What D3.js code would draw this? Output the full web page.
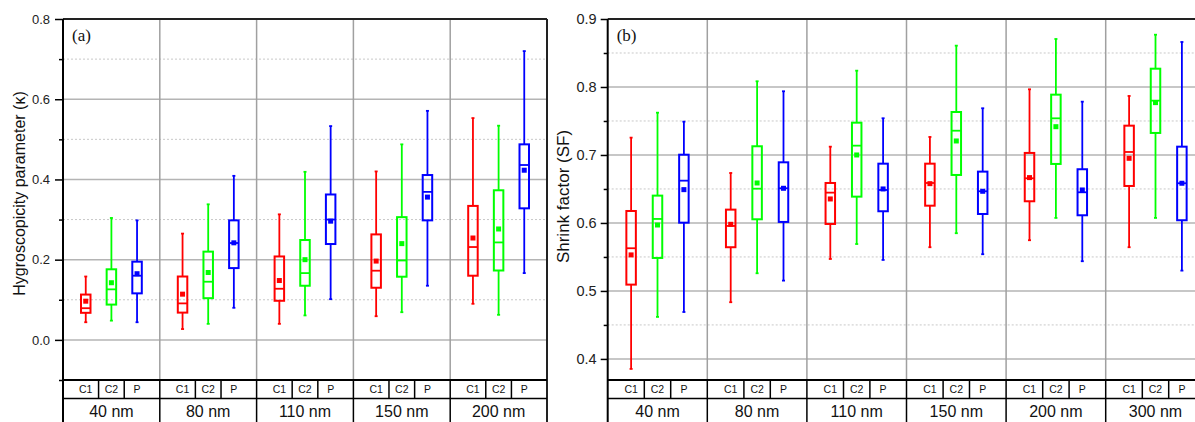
<!DOCTYPE html>
<html><head><meta charset="utf-8">
<script src="https://cdn.jsdelivr.net/npm/d3@7"></script>
<style>body{margin:0;background:#fff}svg{display:block}</style>
</head><body><svg id="chart" width="1195" height="422"></svg>
<script>
const seriesNames = ["C1", "C2", "P"];
const seriesColors = ["#ff0000", "#00ff00", "#0000ff"];

// (a) hygroscopicity parameter kappa
const kappaSizes = ["40 nm", "80 nm", "110 nm", "150 nm", "200 nm"];
// each row: [whiskerLow, q1, median, q3, whiskerHigh, mean]
const kappaC1 = [
  [0.044, 0.0675, 0.079, 0.113, 0.158, 0.0965],
  [0.027, 0.068, 0.091, 0.158, 0.265, 0.114],
  [0.040, 0.0975, 0.1275, 0.208, 0.313, 0.148],
  [0.059, 0.130, 0.1725, 0.263, 0.420, 0.1965],
  [0.090, 0.160, 0.2315, 0.334, 0.553, 0.254]
];
const kappaC2 = [
  [0.048, 0.088, 0.126, 0.176, 0.304, 0.1425],
  [0.040, 0.104, 0.145, 0.220, 0.338, 0.168],
  [0.061, 0.135, 0.1665, 0.249, 0.419, 0.200],
  [0.069, 0.1575, 0.198, 0.306, 0.4875, 0.240],
  [0.0625, 0.173, 0.243, 0.373, 0.534, 0.2765]
];
const kappaP = [
  [0.044, 0.116, 0.160, 0.195, 0.298, 0.165],
  [0.080, 0.179, 0.2415, 0.298, 0.409, 0.242],
  [0.1015, 0.239, 0.300, 0.3625, 0.533, 0.296],
  [0.135, 0.298, 0.369, 0.411, 0.571, 0.356],
  [0.1665, 0.328, 0.436, 0.4875, 0.720, 0.423]
];
const kappaTicks = [0.0, 0.2, 0.4, 0.6, 0.8];
const kappaMinor = [-0.1, 0.1, 0.3, 0.5, 0.7];

// (b) shrink factor
const sfSizes = ["40 nm", "80 nm", "110 nm", "150 nm", "200 nm", "300 nm"];
const sfC1 = [
  [0.3853, 0.5093, 0.5628, 0.6176, 0.7255, 0.553],
  [0.4834, 0.5643, 0.5956, 0.6196, 0.6735, 0.598],
  [0.547, 0.5985, 0.6446, 0.6588, 0.7122, 0.6353],
  [0.5643, 0.6254, 0.6588, 0.6872, 0.7265, 0.6578],
  [0.5746, 0.6319, 0.6657, 0.703, 0.7966, 0.6667],
  [0.5643, 0.6544, 0.7044, 0.7431, 0.7868, 0.6951]
];
const sfC2 = [
  [0.4618, 0.5485, 0.6059, 0.6402, 0.7622, 0.597],
  [0.526, 0.6054, 0.6504, 0.7128, 0.8084, 0.6588],
  [0.569, 0.6387, 0.7137, 0.7475, 0.824, 0.700],
  [0.5849, 0.6706, 0.7357, 0.7632, 0.8608, 0.7206],
  [0.6074, 0.6868, 0.7539, 0.7887, 0.8706, 0.7416],
  [0.6074, 0.7324, 0.7799, 0.8269, 0.8769, 0.777]
];
const sfP = [
  [0.469, 0.6004, 0.6622, 0.7004, 0.749, 0.649],
  [0.5152, 0.6015, 0.651, 0.6892, 0.7937, 0.651],
  [0.5456, 0.6172, 0.6485, 0.6872, 0.754, 0.650],
  [0.554, 0.6132, 0.6466, 0.6755, 0.7687, 0.6466],
  [0.5437, 0.6113, 0.6451, 0.679, 0.7784, 0.6485],
  [0.5299, 0.604, 0.6584, 0.7122, 0.8662, 0.6584]
];
const sfTicks = [0.4, 0.5, 0.6, 0.7, 0.8, 0.9];
const sfMinor = [0.45, 0.55, 0.65, 0.75, 0.85];

const svg = d3.select("#chart");

function panel(o) {
  const g = svg.append("g");
  const yTop = 19, yBottom = 380, row1 = 398.5, row2 = 423;
  const x = d3.scaleBand().domain(o.sizes).range([o.x0, o.x1]).padding(0);
  const bw = x.bandwidth();
  const xs = d3.scalePoint().domain(seriesNames).range([-0.265 * bw, 0.265 * bw]);
  const y = d3.scaleLinear().domain(o.domain).range([yBottom, yTop]);
  const inside = v => y(v) > yTop + 1 && y(v) < yBottom - 1;

  // grid
  g.selectAll(".minorgrid").data(o.minor.filter(inside)).join("line")
    .attr("x1", o.x0).attr("x2", o.x1).attr("y1", d => y(d)).attr("y2", d => y(d))
    .attr("stroke", "#c8c8c8").attr("stroke-width", 1).attr("stroke-dasharray", "2,2");
  g.selectAll(".majorgrid").data(o.major.filter(inside)).join("line")
    .attr("x1", o.x0).attr("x2", o.x1).attr("y1", d => y(d)).attr("y2", d => y(d))
    .attr("stroke", "#b4b4b4").attr("stroke-width", 1.5);
  g.selectAll(".vgrid").data(o.sizes.slice(1)).join("line")
    .attr("x1", d => x(d)).attr("x2", d => x(d)).attr("y1", yTop).attr("y2", yBottom)
    .attr("stroke", "#a0a0a0").attr("stroke-width", 1.5);

  // boxes
  const boxW = 9.5, capW = 3, mk = 5;
  o.series.forEach((arr, si) => {
    const col = seriesColors[si];
    const sg = g.append("g").attr("stroke", col).attr("fill", "none");
    arr.forEach((d, i) => {
      const cx = x(o.sizes[i]) + bw / 2 + xs(seriesNames[si]);
      sg.append("line").attr("x1", cx).attr("x2", cx).attr("y1", y(d[0])).attr("y2", y(d[1])).attr("stroke-width", 1.8);
      sg.append("line").attr("x1", cx).attr("x2", cx).attr("y1", y(d[3])).attr("y2", y(d[4])).attr("stroke-width", 1.8);
      sg.append("line").attr("x1", cx - capW / 2).attr("x2", cx + capW / 2).attr("y1", y(d[0])).attr("y2", y(d[0])).attr("stroke-width", 1.8);
      sg.append("line").attr("x1", cx - capW / 2).attr("x2", cx + capW / 2).attr("y1", y(d[4])).attr("y2", y(d[4])).attr("stroke-width", 1.8);
      sg.append("rect").attr("x", cx - boxW / 2).attr("width", boxW)
        .attr("y", y(d[3])).attr("height", y(d[1]) - y(d[3])).attr("stroke-width", 2);
      sg.append("line").attr("x1", cx - boxW / 2).attr("x2", cx + boxW / 2).attr("y1", y(d[2])).attr("y2", y(d[2])).attr("stroke-width", 1.8);
      sg.append("rect").attr("x", cx - mk / 2).attr("y", y(d[5]) - mk / 2).attr("width", mk).attr("height", mk)
        .attr("fill", col).attr("stroke", "none");
    });
  });

  // y axis
  const ax = g.append("g").attr("transform", `translate(${o.x0},0)`)
    .call(d3.axisLeft(y).tickValues(o.major).tickSize(o.tickLen).tickPadding(o.tickPad).tickFormat(d3.format(".1f")));
  ax.select(".domain").remove();
  ax.selectAll("line").attr("stroke", "#000").attr("stroke-width", 1.5);
  ax.selectAll("text").attr("font-family", "Arial, 'Liberation Sans', sans-serif")
    .attr("font-size", o.tickFont).attr("fill", "#222");
  const axm = g.append("g").attr("transform", `translate(${o.x0},0)`)
    .call(d3.axisLeft(y).tickValues(o.minor.filter(v => y(v) >= yTop && y(v) <= yBottom + 0.5)).tickSize(4).tickFormat(""));
  axm.select(".domain").remove();
  axm.selectAll("line").attr("stroke", "#000").attr("stroke-width", 1.5);

  // frame
  g.append("line").attr("x1", o.x0).attr("x2", o.x1).attr("y1", yTop).attr("y2", yTop).attr("stroke", "#222").attr("stroke-width", 2);
  g.append("line").attr("x1", o.x0).attr("x2", o.x0).attr("y1", yTop).attr("y2", row2).attr("stroke", "#000").attr("stroke-width", 2);
  g.append("line").attr("x1", o.x1).attr("x2", o.x1).attr("y1", yTop).attr("y2", row2).attr("stroke", "#222").attr("stroke-width", 2);
  g.append("line").attr("x1", o.x0).attr("x2", o.x1).attr("y1", yBottom).attr("y2", yBottom).attr("stroke", "#000").attr("stroke-width", 2);

  // category table
  g.append("line").attr("x1", o.x0).attr("x2", o.x1).attr("y1", row1).attr("y2", row1).attr("stroke", "#000").attr("stroke-width", 1.5);
  g.selectAll(".gsep").data(o.sizes.slice(1)).join("line")
    .attr("x1", d => x(d)).attr("x2", d => x(d)).attr("y1", yBottom).attr("y2", row2)
    .attr("stroke", "#000").attr("stroke-width", 1.5);
  const mids = [(xs("C1") + xs("C2")) / 2, (xs("C2") + xs("P")) / 2];
  o.sizes.forEach(s => {
    const c = x(s) + bw / 2;
    mids.forEach(m => {
      g.append("line").attr("x1", c + m).attr("x2", c + m).attr("y1", yBottom).attr("y2", row1)
        .attr("stroke", "#000").attr("stroke-width", 1.5);
    });
    seriesNames.forEach(n => {
      g.append("text").attr("x", c + xs(n)).attr("y", 393.3).attr("text-anchor", "middle")
        .attr("font-family", "Arial, 'Liberation Sans', sans-serif").attr("font-size", 10.5).attr("fill", "#111").text(n);
    });
    g.append("text").attr("x", c).attr("y", 416.5).attr("text-anchor", "middle")
      .attr("font-family", "Arial, 'Liberation Sans', sans-serif").attr("font-size", 16).attr("fill", "#111").text(s);
  });

  // panel label and axis title
  g.append("text").attr("x", o.x0 + 9).attr("y", 41).attr("font-family", "'Liberation Serif', 'Times New Roman', serif")
    .attr("font-size", 17).attr("fill", "#111").text(o.label);
  g.append("text").attr("transform", `translate(${o.titleX},${o.titleY}) rotate(-90)`).attr("text-anchor", "middle")
    .attr("font-family", "Arial, 'Liberation Sans', sans-serif").attr("font-size", o.titleFont).attr("fill", "#111").text(o.title);
}

panel({
  sizes: kappaSizes, series: [kappaC1, kappaC2, kappaP], x0: 63, x1: 547,
  domain: [-0.1, 0.8], major: kappaTicks, minor: kappaMinor,
  tickLen: 8, tickPad: 5, tickFont: 13, label: "(a)",
  title: "Hygroscopicity parameter (\u03ba)", titleX: 25, titleY: 193.5, titleFont: 16
});
panel({
  sizes: sfSizes, series: [sfC1, sfC2, sfP], x0: 607.7, x1: 1205.3,
  domain: [0.369, 0.9], major: sfTicks, minor: sfMinor,
  tickLen: 7, tickPad: 4, tickFont: 14.5, label: "(b)",
  title: "Shrink factor (SF)", titleX: 569, titleY: 196.5, titleFont: 17
});
</script></body></html>
